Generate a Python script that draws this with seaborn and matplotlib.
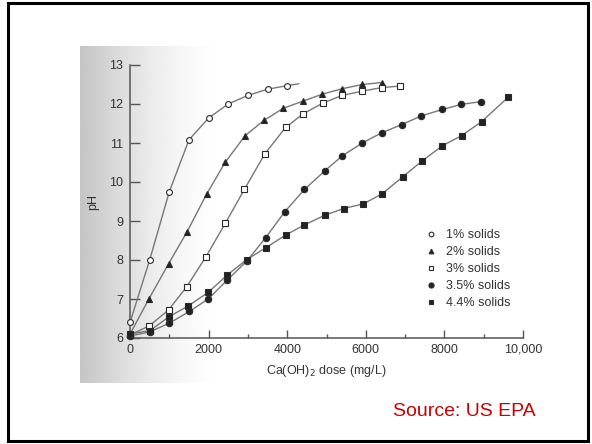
import numpy as np
import pandas as pd
import matplotlib
matplotlib.use("Agg")
import matplotlib.pyplot as plt
from matplotlib.lines import Line2D
from matplotlib.patches import Rectangle
import seaborn as sns

# ---- data ----
x_1 = [0, 500, 1000, 1500, 2000, 2500, 3000, 3500, 4000, 4300]
ph_1 = [6.4, 8.0, 9.75, 11.08, 11.64, 12.0, 12.22, 12.38, 12.47, 12.52]

x_2 = [0, 480, 980, 1450, 1950, 2420, 2930, 3410, 3900, 4390, 4890, 5390, 5910, 6400]
ph_2 = [6.1, 7.0, 7.9, 8.72, 9.69, 10.5, 11.19, 11.58, 11.89, 12.07, 12.25, 12.39, 12.5, 12.55]

x_3 = [0, 490, 980, 1440, 1930, 2430, 2910, 3430, 3960, 4410, 4920, 5400, 5910, 6400, 6870]
ph_3 = [6.08, 6.31, 6.72, 7.31, 8.08, 8.95, 9.81, 10.72, 11.4, 11.75, 12.03, 12.22, 12.33, 12.42, 12.46]

x_35 = [0, 510, 1000, 1510, 1990, 2480, 2970, 3450, 3940, 4440, 4950, 5400, 5910, 6400, 6910, 7400, 7950, 8430, 8920]
ph_35 = [6.05, 6.16, 6.38, 6.68, 7.0, 7.49, 7.97, 8.57, 9.24, 9.81, 10.28, 10.67, 11.0, 11.26, 11.47, 11.69, 11.86, 11.99, 12.06]

x_44 = [0, 510, 1000, 1480, 1990, 2480, 2970, 3450, 3960, 4440, 4960, 5440, 5940, 6420, 6950, 7420, 7950, 8440, 8950, 9630]
ph_44 = [6.1, 6.19, 6.55, 6.82, 7.17, 7.62, 8.01, 8.31, 8.64, 8.9, 9.15, 9.32, 9.44, 9.7, 10.14, 10.53, 10.93, 11.19, 11.55, 12.18]

labels = ["1% solids", "2% solids", "3% solids", "3.5% solids", "4.4% solids"]
x_ticks = [0, 2000, 4000, 6000, 8000, 10000]
x_tick_labels = ["0", "2000", "4000", "6000", "8000", "10,000"]
y_ticks = [6, 7, 8, 9, 10, 11, 12, 13]

series = [(x_1, ph_1), (x_2, ph_2), (x_3, ph_3), (x_35, ph_35), (x_44, ph_44)]
markers = ["o", "^", "s", "o", "s"]
faces = ["white", "#222222", "white", "#222222", "#222222"]
msizes = [4.2, 4.2, 4.0, 4.6, 4.0]

sns.set_theme(style="white")
plt.rcParams["font.family"] = ["Liberation Sans", "DejaVu Sans"]

W, H = 592, 444
fig = plt.figure(figsize=(W / 100, H / 100), dpi=100)

# scanned-page background: gray gradient on the left
bg = fig.add_axes([80 / W, 1 - 383 / H, (560 - 80) / W, (383 - 46) / H], zorder=0)
grad = np.linspace(0, 1, 480)
t = np.clip(grad / 0.30, 0, 1)
vals = 0.77 + 0.23 * (1 - (1 - t) ** 1.6)
bg.imshow(np.tile(vals, (10, 1)), cmap="gray", vmin=0, vmax=1, aspect="auto",
          extent=[0, 1, 0, 1])
bg.set_axis_off()

ax = fig.add_axes([130 / W, 1 - 338 / H, 393 / W, 273 / H], zorder=1)
ax.patch.set_alpha(0)

line_col = "#777777"
edge_col = "#2a2a2a"
for i, ((xs, ys), m, fc, ms) in enumerate(zip(series, markers, faces, msizes)):
    df = pd.DataFrame({"dose": xs, "pH": ys})
    n = len(xs)
    mev = list(range(n - 1)) if i == 0 else None
    sns.lineplot(data=df, x="dose", y="pH", ax=ax, color=line_col, lw=1.0,
                 marker=m, markersize=ms, markerfacecolor=fc,
                 markeredgecolor=edge_col, markeredgewidth=0.8,
                 markevery=mev, clip_on=False, zorder=3 + i, sort=False)

ax.set_xlim(0, 10000)
ax.set_ylim(6, 13)
for s in ["top", "right"]:
    ax.spines[s].set_visible(False)
for s in ["left", "bottom"]:
    ax.spines[s].set_color("#555555")
    ax.spines[s].set_linewidth(1.1)

ax.set_xticks(x_ticks)
ax.set_xticklabels(x_tick_labels)
ax.set_xticks(np.arange(1000, 10000, 2000), minor=True)
ax.set_yticks(y_ticks)
ax.set_yticklabels([str(v) for v in y_ticks])
ax.tick_params(axis="x", which="major", direction="in", length=6, width=1.0,
               color="#555555", labelsize=9, labelcolor="#333333", pad=4, bottom=True)
ax.tick_params(axis="x", which="minor", direction="in", length=3, width=1.0,
               color="#555555", bottom=True)
ax.tick_params(axis="y", which="major", direction="in", length=7, width=1.0,
               color="#555555", labelsize=9, labelcolor="#333333", pad=5, left=True)

ax.set_xlabel("Ca(OH)$_2$ dose (mg/L)", fontsize=9, color="#333333", labelpad=5)
ax.set_ylabel("pH", fontsize=9, color="#333333", labelpad=7)

handles = [Line2D([], [], ls="none", marker=m, markersize=ms * 0.8, markerfacecolor=fc,
                  markeredgecolor=edge_col, markeredgewidth=0.8)
           for m, fc, ms in zip(markers, faces, msizes)]
leg = ax.legend(handles, labels, loc="upper left",
                bbox_to_anchor=(419 / W, 1 - 223 / H), bbox_transform=fig.transFigure,
                frameon=False, fontsize=9, handlelength=0.9, handletextpad=0.8,
                labelspacing=0.4, borderpad=0)
for tx in leg.get_texts():
    tx.set_color("#333333")

fig.text(393 / W, 1 - 411 / H, "Source: US EPA", color="#cc0000", fontsize=14,
         ha="left", va="center")

fig.patches.append(Rectangle((8 / W, 3 / H), (588 - 8) / W, (441 - 3) / H,
                             transform=fig.transFigure, fill=False,
                             edgecolor="black", linewidth=2.2, zorder=10))

fig.savefig("out.png", dpi=100)
